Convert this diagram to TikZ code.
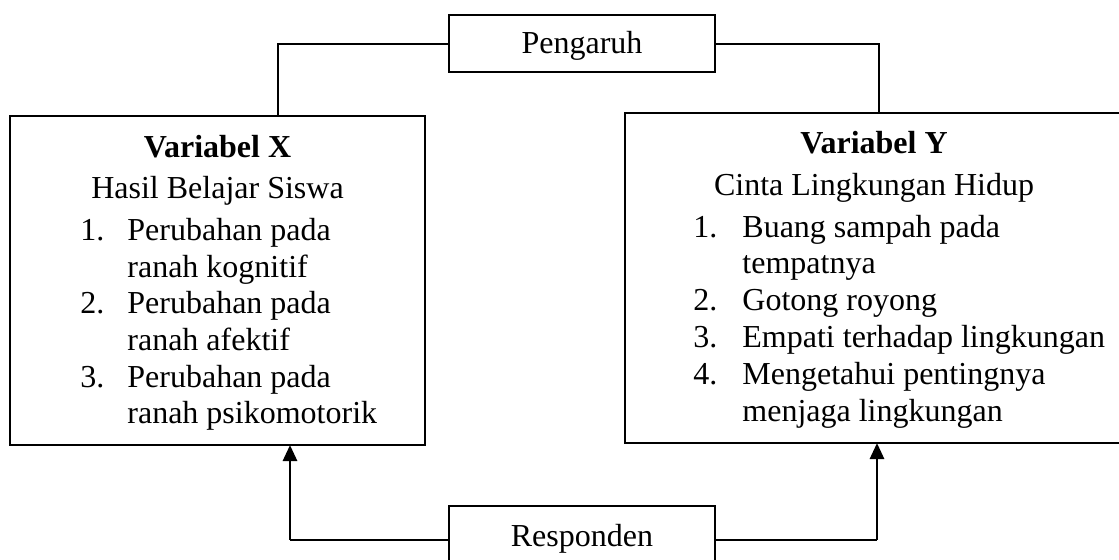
\documentclass[tikz,border=0pt]{standalone}
\usepackage{fontspec}
\setmainfont{Liberation Serif}
\usetikzlibrary{arrows.meta}
\begin{document}
\begin{tikzpicture}[x=0.5pt,y=-0.5pt,
  box/.style={draw,line width=1pt,inner sep=0pt},
  txt/.style={inner sep=0pt,anchor=base,font=\fontsize{16}{19}\selectfont},
  lft/.style={inner sep=0pt,anchor=base west,font=\fontsize{16}{19}\selectfont},
  conn/.style={line width=1pt},
  arr/.style={line width=1.4pt,-{Triangle[width=7pt,length=8pt]}}]
\clip (0,0) rectangle (1119,559);
% boxes
\node[box,minimum width=133pt,minimum height=28.5pt] (peng) at (582,43.5) {};
\node[txt] (pengt) at (582,53) {Pengaruh};
\node[box,minimum width=133pt,minimum height=33.5pt] (resp) at (582,539.5) {};
\node[txt] (respt) at (582,546) {Responden};
\node[box,minimum width=207.5pt,minimum height=164.5pt] (X) at (217.5,280.5) {};
\node[box,minimum width=249pt,minimum height=165pt] (Y) at (874,278) {};
% left text
\node[txt] (xt) at (217.5,157) {\textbf{Variabel X}};
\node[txt] (xs) at (217.5,198) {Hasil Belajar Siswa};
\node[lft] (xn1) at (80,240) {1.};
\node[lft] (xn2) at (80,313) {2.};
\node[lft] (xn3) at (80,387) {3.};
\node[lft] (xa1) at (127,240) {Perubahan pada};
\node[lft] (xa2) at (127,277) {ranah kognitif};
\node[lft] (xb1) at (127,313) {Perubahan pada};
\node[lft] (xb2) at (127,350) {ranah afektif};
\node[lft] (xc1) at (127,387) {Perubahan pada};
\node[lft] (xc2) at (127,423) {ranah psikomotorik};
% right text
\node[txt] (yt) at (874,153) {\textbf{Variabel Y}};
\node[txt] (ys) at (874,195) {Cinta Lingkungan Hidup};
\node[lft] (yn1) at (693,237) {1.};
\node[lft] (yn2) at (693,310) {2.};
\node[lft] (yn3) at (693,347) {3.};
\node[lft] (yn4) at (693,384) {4.};
\node[lft] (ya1) at (742,237) {Buang sampah pada};
\node[lft] (ya2) at (742,273) {tempatnya};
\node[lft] (yb1) at (742,310) {Gotong royong};
\node[lft] (yc1) at (742,347) {Empati terhadap lingkungan};
\node[lft] (yd1) at (742,384) {Mengetahui pentingnya};
\node[lft] (yd2) at (742,421) {menjaga lingkungan};
% connectors
\coordinate (a) at (278,116);
\coordinate (b) at (879,113);
\draw[conn] (peng.west) -| (a);
\draw[conn] (peng.east) -| (b);
\coordinate (cl0) at (290,539.5);
\coordinate (cl) at (290,445);
\coordinate (cr0) at (877,539.5);
\coordinate (cr) at (877,443);
\draw[conn] (resp.west) -- (cl0);
\draw[arr] (cl0) -- (cl);
\draw[conn] (resp.east) -- (cr0);
\draw[arr] (cr0) -- (cr);
\end{tikzpicture}
\end{document}
